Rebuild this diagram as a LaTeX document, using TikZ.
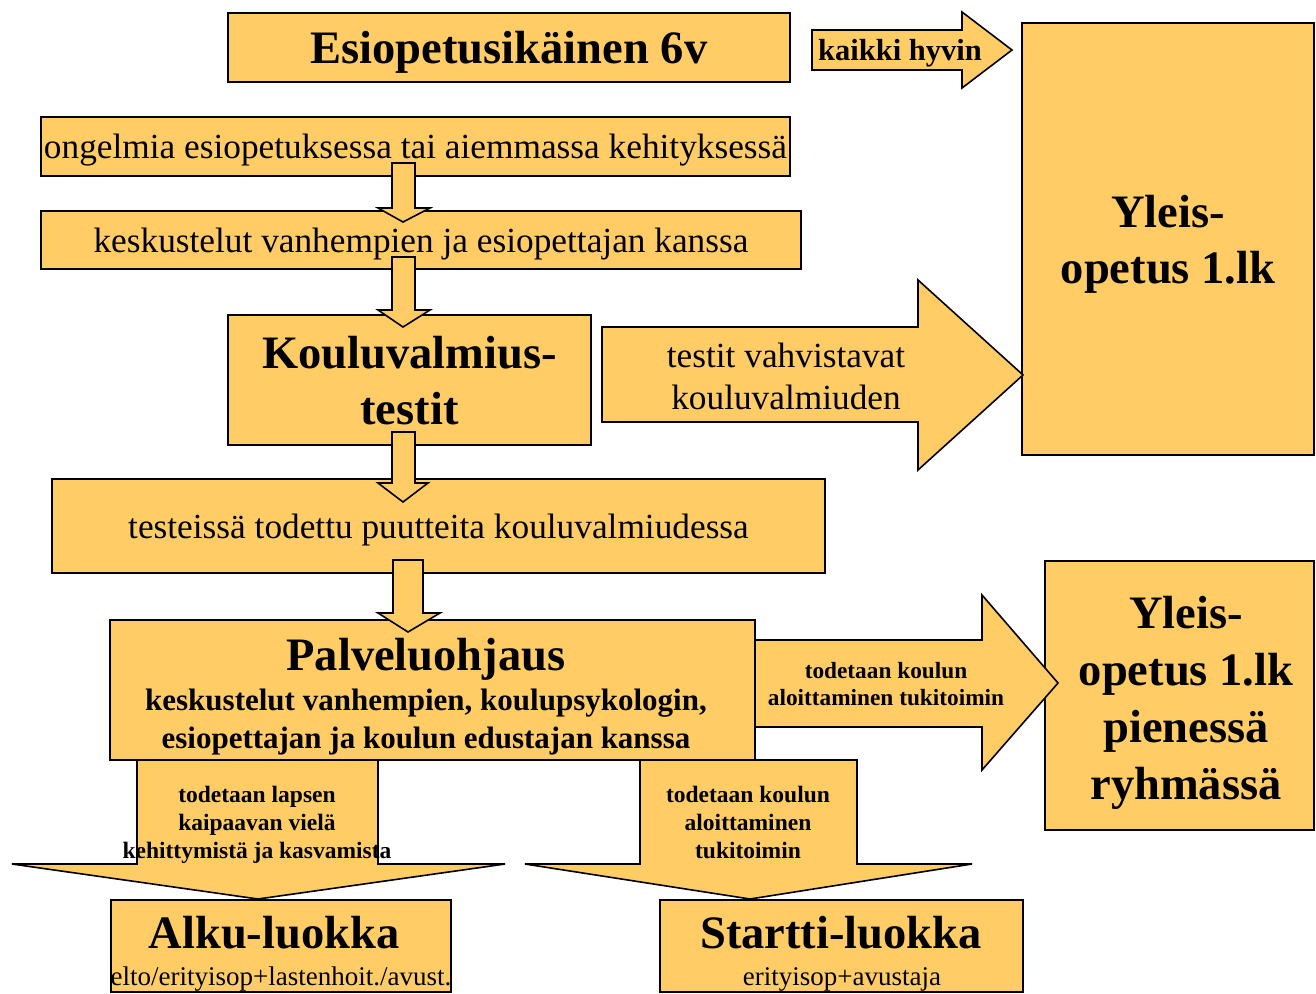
\documentclass[tikz,border=0pt]{standalone}
\usepackage{fontspec}
\setmainfont{Liberation Serif}
\usetikzlibrary{positioning}
\definecolor{boxyellow}{RGB}{255,204,102}
\tikzstyle{stagebox} = [rectangle, draw=black, line width=2pt, fill=boxyellow, inner sep=0pt, align=center, text depth=0pt]
\tikzstyle{blockarrow} = [draw=black, line width=1.6pt, fill=boxyellow, line join=miter]
\tikzstyle{headtext} = [font=\fontsize{46.5}{56}\selectfont\bfseries, align=center, inner sep=0pt]
\tikzstyle{plaintext} = [font=\fontsize{35.3}{42}\selectfont, align=center, inner sep=0pt]
\tikzstyle{smallbold} = [font=\fontsize{23.5}{28}\selectfont\bfseries, align=center, inner sep=0pt]
\tikzstyle{subtext} = [font=\fontsize{27}{32}\selectfont, inner sep=0pt]
\begin{document}
\begin{tikzpicture}[x=1pt, y=-1pt]
\useasboundingbox (0,0) rectangle (1316,993);
\fill[white] (0,0) rectangle (1316,993);

% Stage boxes
\node[stagebox, headtext, minimum width=562pt, minimum height=69pt] (age) at (509,47.5) {Esiopetusikäinen 6v};
\node[stagebox, plaintext, minimum width=749pt, minimum height=59pt] (problems) at (415.5,146.5) {ongelmia esiopetuksessa tai aiemmassa kehityksessä};
\node[stagebox, plaintext, minimum width=760pt, minimum height=58pt] (talks) at (421,240) {keskustelut vanhempien ja esiopettajan kanssa};
\node[stagebox, headtext, minimum width=363pt, minimum height=130pt] (tests) at (409.5,380) {Kouluvalmius-\\testit};
\node[stagebox, plaintext, minimum width=773pt, minimum height=94pt] (gaps) at (438.5,526) {testeissä todettu puutteita kouluvalmiudessa};
\node[stagebox, minimum width=645pt, minimum height=140pt] (guidance) at (432.5,690) {};
\node[stagebox, headtext, minimum width=292pt, minimum height=432pt] (general) at (1168,239) {Yleis-\\opetus 1.lk};
\node[stagebox, minimum width=269pt, minimum height=269pt] (smallgroup) at (1179.5,695.5) {};
\node[stagebox, minimum width=340pt, minimum height=92pt] (alku) at (281,946) {};
\node[stagebox, minimum width=363pt, minimum height=92pt] (startti) at (841.5,946) {};

% Texts inside boxes
\node[headtext, font=\fontsize{46.5}{57}\selectfont\bfseries, text depth=0pt] (smalltext) at (1186,697.5) {Yleis-\\opetus 1.lk\\pienessä\\ryhmässä};
\node[headtext] (guidetitle) at (426,659) {Palveluohjaus};
\node[font=\fontsize{31}{38}\selectfont\bfseries, align=center, inner sep=0pt] (guidetext) at (426,722) {keskustelut vanhempien, koulupsykologin,\\esiopettajan ja koulun edustajan kanssa};
\node[headtext] (alkutitle) at (274,933) {Alku-luokka};
\node[subtext] (alkustaff) at (281,979) {elto/erityisop+lastenhoit./avust.};
\node[headtext] (starttititle) at (841,933) {Startti-luokka};
\node[subtext] (starttistaff) at (842,979) {erityisop+avustaja};

% Small down arrows
\draw[blockarrow] (392,163) -- (415,163) -- (415,208) -- (430,208) -- (403,222) -- (378,208) -- (392,208) -- cycle;
\draw[blockarrow] (392,257) -- (415,257) -- (415,310) -- (430,310) -- (403,327) -- (378,310) -- (392,310) -- cycle;
\draw[blockarrow] (392,432) -- (415,432) -- (415,483) -- (428,483) -- (403,502) -- (378,483) -- (392,483) -- cycle;
\draw[blockarrow] (393,560) -- (423,560) -- (423,613) -- (440,613) -- (408,632) -- (378,613) -- (393,613) -- cycle;

% Right arrows
\draw[blockarrow] (812,30) -- (962,30) -- (962,12) -- (1012,50) -- (962,88) -- (962,70) -- (812,70) -- cycle;
\draw[blockarrow] (602,327) -- (918,327) -- (918,280) -- (1023,375) -- (918,470) -- (918,422) -- (602,422) -- cycle;
\draw[blockarrow] (755,640) -- (982,640) -- (982,595) -- (1058,683) -- (982,770) -- (982,727) -- (755,727) -- cycle;

% Wide down arrows
\draw[blockarrow] (137,760) -- (378,760) -- (378,864) -- (505,864) -- (258,899) -- (12,864) -- (137,864) -- cycle;
\draw[blockarrow] (640,760) -- (857,760) -- (857,864) -- (972,864) -- (750,899) -- (525,864) -- (640,864) -- cycle;

% Arrow labels
\node[font=\fontsize{30.5}{34}\selectfont\bfseries, inner sep=0pt] (allgood) at (900,53) {kaikki hyvin};
\node[plaintext] (confirm) at (786,376) {testit vahvistavat\\kouluvalmiuden};
\node[smallbold, font=\fontsize{23.3}{27}\selectfont\bfseries] (support) at (886,684.5) {todetaan koulun\\aloittaminen tukitoimin};
\node[smallbold] (needgrow) at (257,825) {todetaan lapsen\\kaipaavan vielä\\kehittymistä ja kasvamista};
\node[smallbold] (startsupport) at (748,822.5) {todetaan koulun\\aloittaminen\\tukitoimin};

\end{tikzpicture}
\end{document}
